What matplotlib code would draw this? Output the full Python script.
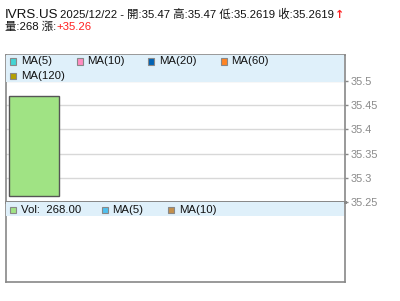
import matplotlib.pyplot as plt
from matplotlib.patches import Rectangle

# data
symbol = 'IVRS.US'
dates = ['2025/12/22']
opens = [35.47]
highs = [35.47]
lows = [35.2619]
closes = [35.2619]
volumes = [268]
change = 35.26

price_ticks = [35.25, 35.3, 35.35, 35.4, 35.45, 35.5]
ma_labels = ['MA(5)', 'MA(10)', 'MA(20)', 'MA(60)', 'MA(120)']
ma_colors = ['#44d4d4', '#ff8cc0', '#0062b4', '#ff8424', '#b4a000']
vol_labels = ['MA(5)', 'MA(10)']
vol_colors = ['#50c0ee', '#c4904c']

FONT = ['Liberation Sans', 'Noto Sans CJK TC', 'DejaVu Sans']
plt.rcParams['font.family'] = FONT

W, H = 400, 301
fig = plt.figure(figsize=(W / 100, H / 100), dpi=100)


def box(x0, y0, x1, y1):
    # pixel box -> figure fraction
    return [x0 / W, 1 - y1 / H, (x1 - x0) / W, (y1 - y0) / H]


ax = fig.add_axes(box(6, 54.5, 345.3, 202))
axv = fig.add_axes(box(6, 202, 345.3, 282.3))

border = '#888888'
band = '#dff0fa'
LEG_FS = 8.2

# price panel
ax.set_xlim(-0.5, 5.55)
ax.set_ylim(35.25, 35.555)
for i in range(len(dates)):
    up = closes[i] >= opens[i]
    col = '#ff6060' if up else '#a0e384'
    lo, hi = min(opens[i], closes[i]), max(opens[i], closes[i])
    ax.vlines(i, lows[i], highs[i], color='#555555', lw=1, zorder=3)
    ax.bar(i, hi - lo, bottom=lo, width=0.9, color=col,
           edgecolor='#555555', linewidth=1, zorder=4)

ax.set_yticks(price_ticks)
ax.set_yticklabels([f'{t:g}' for t in price_ticks])
ax.yaxis.tick_right()
ax.tick_params(axis='y', colors=border, labelcolor='#888888', labelsize=7.8,
               length=2.5, width=1, pad=1.5)
ax.set_xticks([])
ax.grid(axis='y', color='#d8d8d8', lw=1, zorder=0)
for s in ax.spines.values():
    s.set_color(border)
    s.set_linewidth(1.2)
ax.spines['bottom'].set_linewidth(2)

band_h = (81.5 - 54.5) / (202 - 54.5)
ax.add_patch(Rectangle((0, 1 - band_h), 0.997, band_h, transform=ax.transAxes,
                       color=band, zorder=5, lw=0))

# legend items (pixel positions)
ma_pos = [(10.3, 61.5), (76.7, 61.5), (148.3, 61.5), (220.7, 61.5), (10.3, 76)]
for (px, py), lab, c in zip(ma_pos, ma_labels, ma_colors):
    fig.patches.append(Rectangle((px / W, 1 - (py + 3) / H), 6 / W, 6 / H,
                                 transform=fig.transFigure, facecolor=c,
                                 edgecolor='#888888', lw=0.8, zorder=10))
    fig.text((px + 10.5) / W, 1 - py / H, lab, fontsize=LEG_FS, va='center',
             color='#111111', zorder=10)

# volume panel
axv.set_xlim(ax.get_xlim())
axv.set_xticks([])
axv.set_yticks([])
for s in axv.spines.values():
    s.set_color(border)
    s.set_linewidth(1.2)
axv.spines['top'].set_linewidth(2)
vband_h = (215.7 - 202) / (282.3 - 202)
axv.add_patch(Rectangle((0, 1 - vband_h), 0.997, vband_h, transform=axv.transAxes,
                        color=band, zorder=5, lw=0))

vol_items = [('Vol:  %.2f' % volumes[-1], '#a0e384')] + list(zip(vol_labels, vol_colors))
vol_pos = [(10.3, 210), (101.7, 210), (168.3, 210)]
for (px, py), (lab, c) in zip(vol_pos, vol_items):
    fig.patches.append(Rectangle((px / W, 1 - (py + 3) / H), 6 / W, 6 / H,
                                 transform=fig.transFigure, facecolor=c,
                                 edgecolor='#888888', lw=0.8, zorder=10))
    fig.text((px + 10.5) / W, 1 - py / H, lab, fontsize=LEG_FS, va='center',
             color='#111111', zorder=10)

# header
t = fig.text(5 / W, 1 - 17.5 / H, symbol, fontsize=9.6, va='baseline', color='#111111')
t = fig.text(60 / W, 1 - 17.5 / H,
             f'{dates[-1]} - 開:{opens[-1]} 高:{highs[-1]} 低:{lows[-1]} 收:{closes[-1]}',
             fontsize=8.2, va='baseline', color='#111111')
fig.canvas.draw()
bb = t.get_window_extent()
fig.text(bb.x1 / W + 0.002, 1 - 17.5 / H, '↑', fontsize=8, va='baseline',
         color='#ff2020', fontweight='bold', family='DejaVu Sans')

t2 = fig.text(5 / W, 1 - 30 / H, f'量:{volumes[-1]} 漲:', fontsize=8.2,
              va='baseline', color='#111111')
fig.canvas.draw()
bb2 = t2.get_window_extent()
fig.text(bb2.x1 / W, 1 - 30 / H, f'{change:+.2f}', fontsize=8.2,
         va='baseline', color='#ff2020')

fig.savefig('out.png', dpi=100)
